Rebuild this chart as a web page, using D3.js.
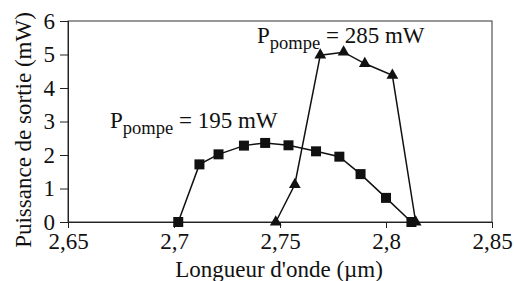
<!DOCTYPE html>
<html lang="fr">
<head>
<meta charset="UTF-8">
<title>Puissance de sortie</title>
<style>
  body { margin: 0; background: #fff; }
</style>
</head>
<body>
<svg id="chart" width="514" height="281"></svg>
<script src="https://cdn.jsdelivr.net/npm/d3@7/dist/d3.min.js"></script>
<script>
  // data
  var xTicks = [2.65, 2.7, 2.75, 2.8, 2.85];
  var xTickLabels = ["2,65", "2,7", "2,75", "2,8", "2,85"];
  var yTicks = [0, 1, 2, 3, 4, 5, 6];

  var wl195 = [2.702, 2.712, 2.721, 2.733, 2.743, 2.754, 2.767, 2.778, 2.788, 2.800, 2.812];
  var p195  = [0, 1.72, 2.02, 2.28, 2.36, 2.29, 2.11, 1.95, 1.43, 0.72, 0];

  var wl285 = [2.748, 2.757, 2.769, 2.780, 2.790, 2.803, 2.814];
  var p285  = [0, 1.12, 4.98, 5.07, 4.73, 4.38, 0];

  var serif = "'Liberation Serif', 'Times New Roman', Times, serif";
  var fs = "23px";
  var margin = {top: 21, right: 22, bottom: 59, left: 68};
  var width = 514, height = 281;

  var svg = d3.select("#chart");

  var x = d3.scaleLinear().domain([2.65, 2.85]).range([margin.left, width - margin.right]);
  var y = d3.scaleLinear().domain([0, 6]).range([height - margin.bottom, margin.top]);

  // frame
  svg.append("rect")
    .attr("x", x(2.65)).attr("y", y(6))
    .attr("width", x(2.85) - x(2.65)).attr("height", y(0) - y(6))
    .attr("fill", "none").attr("stroke", "#333").attr("stroke-width", 1);

  svg.append("g")
    .attr("transform", `translate(0,${y(0)})`)
    .call(d3.axisBottom(x).tickValues(xTicks).tickSize(6).tickPadding(5)
      .tickFormat((d, i) => xTickLabels[i]))
    .call(g => g.select(".domain").attr("stroke", "#222"))
    .call(g => g.selectAll(".tick line").attr("stroke", "#222"))
    .call(g => g.selectAll(".tick text").style("font-size", fs).style("font-family", serif).attr("fill", "#111"));

  svg.append("g")
    .attr("transform", `translate(${x(2.65)},0)`)
    .call(d3.axisLeft(y).tickValues(yTicks).tickSize(8).tickPadding(5).tickFormat(d3.format("d")))
    .call(g => g.select(".domain").attr("stroke", "#222"))
    .call(g => g.selectAll(".tick line").attr("stroke", "#222"))
    .call(g => g.selectAll(".tick text").style("font-size", fs).style("font-family", serif).attr("fill", "#111"));

  svg.append("text")
    .attr("x", 279).attr("y", 277)
    .attr("text-anchor", "middle")
    .style("font-size", fs).style("font-family", serif).attr("fill", "#111")
    .text("Longueur d'onde (µm)");

  svg.append("text")
    .attr("transform", "translate(31,130) rotate(-90)")
    .attr("text-anchor", "middle")
    .style("font-size", fs).style("font-family", serif).attr("fill", "#111")
    .text("Puissance de sortie (mW)");

  var line = d3.line().x(d => x(d[0])).y(d => y(d[1]));

  function series(wl, p, symbol, size) {
    var pts = wl.map((w, i) => [w, p[i]]);
    svg.append("path").datum(pts)
      .attr("fill", "none").attr("stroke", "#111").attr("stroke-width", 1.5)
      .attr("d", line);
    svg.append("g").selectAll("path").data(pts).join("path")
      .attr("transform", d => `translate(${x(d[0])},${y(d[1])})`)
      .attr("d", d3.symbol().type(symbol).size(size))
      .attr("fill", "#111");
  }

  series(wl195, p195, d3.symbolSquare, 100);
  series(wl285, p285, d3.symbolTriangle, 60);

  function label(px, py, value) {
    var t = svg.append("text").attr("x", px).attr("y", py)
      .style("font-size", fs).style("font-family", serif).attr("fill", "#111");
    t.append("tspan").text("P");
    t.append("tspan").style("font-size", "18.5px").attr("dy", 6).text("pompe");
    t.append("tspan").attr("dy", -6).text(" = " + value + " mW");
  }

  label(110, 128, 195);
  label(257, 43, 285);
</script>
</body>
</html>
